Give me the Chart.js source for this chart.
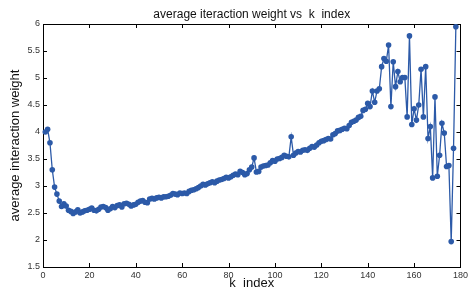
<!DOCTYPE html>
<html lang="en">
<head>
  <meta charset="UTF-8" />
  <title>average iteraction weight vs k index</title>
  <style>
    html, body { margin: 0; padding: 0; background: #fff; }
    #wrap { width: 471px; height: 295px; }
  </style>
</head>
<body>
  <div id="wrap"><canvas id="weightChart" width="471" height="295"></canvas></div>

  <script src="https://cdn.jsdelivr.net/npm/chart.js"></script>
  <script>
    // average weight for k = 1..178
    const avgWeight = [
      4.00, 4.05, 3.80, 3.30, 2.98, 2.85, 2.72, 2.62, 2.67, 2.63,
      2.55, 2.53, 2.49, 2.52, 2.56, 2.50, 2.52, 2.54, 2.55, 2.57,
      2.59, 2.55, 2.54, 2.57, 2.61, 2.62, 2.60, 2.55, 2.58, 2.62,
      2.60, 2.64, 2.65, 2.61, 2.67, 2.68, 2.66, 2.63, 2.65, 2.66,
      2.70, 2.72, 2.73, 2.70, 2.69, 2.76, 2.77, 2.76, 2.78, 2.79,
      2.78, 2.80, 2.80, 2.81, 2.83, 2.86, 2.85, 2.84, 2.87, 2.86,
      2.87, 2.86, 2.90, 2.92, 2.93, 2.95, 2.97, 3.00, 3.03, 3.02,
      3.04, 3.06, 3.08, 3.06, 3.09, 3.11, 3.12, 3.14, 3.16, 3.15,
      3.17, 3.20, 3.22, 3.21, 3.27, 3.25, 3.21, 3.23, 3.30, 3.35,
      3.52, 3.26, 3.27, 3.35, 3.37, 3.38, 3.39, 3.43, 3.47, 3.46,
      3.50, 3.51, 3.53, 3.57, 3.55, 3.54, 3.91, 3.57, 3.61, 3.64,
      3.63, 3.66, 3.67, 3.66, 3.70, 3.73, 3.72, 3.76, 3.80, 3.83,
      3.84, 3.86, 3.88, 3.87, 3.95, 3.97, 4.02, 4.03, 4.05, 4.07,
      4.06, 4.12, 4.18, 4.20, 4.22, 4.27, 4.29, 4.40, 4.42, 4.53,
      4.47, 4.76, 4.55, 4.76, 4.80, 5.21, 5.36, 5.31, 5.61, 4.47,
      5.30, 4.84, 5.12, 4.93, 5.01, 5.01, 4.28, 5.78, 4.14, 4.43,
      4.22, 4.50, 5.16, 4.28, 5.21, 3.88, 4.10, 3.15, 4.65, 3.18,
      3.57, 4.16, 3.98, 3.36, 3.38, 1.97, 3.70, 5.95
    ];
    const kIndex = avgWeight.map((_, i) => i + 1);

    const xTicks = [0, 20, 40, 60, 80, 100, 120, 140, 160, 180];
    const yTicks = [1.5, 2, 2.5, 3, 3.5, 4, 4.5, 5, 5.5, 6];

    const FONT = 'Liberation Sans, Arial, Helvetica, sans-serif';
    const BLUE = '#2c5aa8';

    // box round the plot, inward ticks on all four sides, title on top
    const boxPlugin = {
      id: 'box',
      beforeDatasetsDraw(chart) {
        const { ctx, chartArea: a, scales: { x, y } } = chart;
        const len = 4;
        ctx.save();
        ctx.strokeStyle = '#000';
        ctx.lineWidth = 1;
        ctx.beginPath();
        xTicks.forEach(v => {
          const px = Math.round(x.getPixelForValue(v)) + 0.5;
          ctx.moveTo(px, a.bottom); ctx.lineTo(px, a.bottom - len);
          ctx.moveTo(px, a.top); ctx.lineTo(px, a.top + len);
        });
        yTicks.forEach(v => {
          const py = Math.round(y.getPixelForValue(v)) + 0.5;
          ctx.moveTo(a.left, py); ctx.lineTo(a.left + len, py);
          ctx.moveTo(a.right, py); ctx.lineTo(a.right - len, py);
        });
        ctx.stroke();
        ctx.strokeRect(Math.round(a.left) + 0.5, Math.round(a.top) + 0.5,
          Math.round(a.right - a.left), Math.round(a.bottom - a.top));
        ctx.fillStyle = '#111';
        ctx.font = '12px ' + FONT;
        ctx.textAlign = 'center';
        ctx.textBaseline = 'alphabetic';
        ctx.fillText('average iteraction weight vs  k  index', (a.left + a.right) / 2, 17.5);
        ctx.restore();
      }
    };

    new Chart(document.getElementById('weightChart').getContext('2d'), {
      type: 'line',
      data: {
        labels: kIndex,
        datasets: [{
          data: avgWeight,
          borderColor: BLUE,
          backgroundColor: BLUE,
          borderWidth: 1.3,
          pointRadius: 2.8,
          pointBorderWidth: 0,
          pointBackgroundColor: BLUE,
          tension: 0,
          clip: 4
        }]
      },
      options: {
        responsive: false,
        animation: false,
        events: [],
        layout: { padding: { top: 24, right: 10, left: 0, bottom: 0 } },
        plugins: { legend: { display: false }, tooltip: { enabled: false }, title: { display: false } },
        scales: {
          x: {
            type: 'linear',
            min: 0, max: 180,
            afterBuildTicks: s => { s.ticks = xTicks.map(v => ({ value: v })); },
            afterFit: s => { s.height = 28; },
            grid: { display: false, drawTicks: false },
            border: { display: false },
            ticks: { padding: 3, color: '#333', font: { family: FONT, size: 9 }, maxRotation: 0, autoSkip: false },
            title: { display: true, text: 'k  index', color: '#111', font: { family: FONT, size: 13 }, padding: { top: 0, bottom: 4 } }
          },
          y: {
            min: 1.5, max: 6,
            afterBuildTicks: s => { s.ticks = yTicks.map(v => ({ value: v })); },
            afterFit: s => { s.width = 43; },
            grid: { display: false, drawTicks: false },
            border: { display: false },
            ticks: { padding: 3, color: '#333', font: { family: FONT, size: 9 }, callback: v => String(v), autoSkip: false },
            title: { display: true, text: 'average interaction weight', color: '#111', font: { family: FONT, size: 13 }, padding: { top: 8, bottom: 0 } }
          }
        }
      },
      plugins: [boxPlugin]
    });
  </script>
</body>
</html>
